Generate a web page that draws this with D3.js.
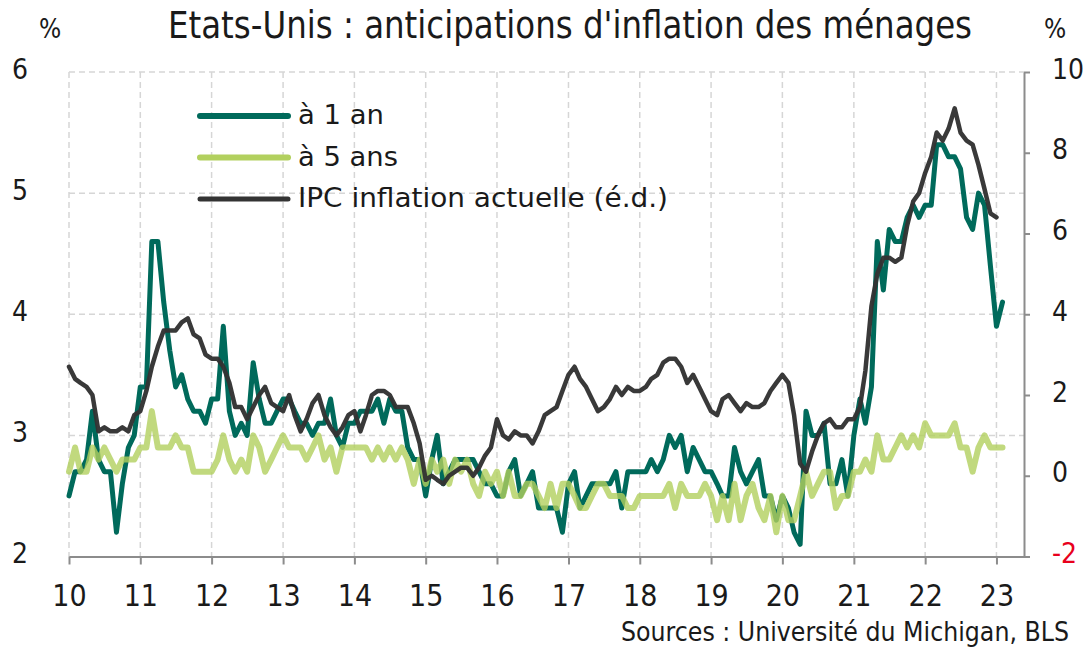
<!DOCTYPE html>
<html lang="fr">
<head>
<meta charset="utf-8">
<title>Etats-Unis : anticipations d'inflation des ménages</title>
<style>
  body { margin: 0; background: #fff; }
  svg text { font-family: "Liberation Sans Narrow", "DejaVu Sans Condensed", Roboto, sans-serif; }
  .grid line { stroke: #d6d6d6; stroke-width: 1.5; stroke-dasharray: 6 4; }
  .serie { fill: none; stroke-linejoin: round; stroke-linecap: round; }
</style>
</head>
<body>
<svg id="chart" width="1089" height="648"></svg>
<script src="https://cdn.jsdelivr.net/npm/d3@7"></script>
<script>
// monthly values, first point = Jan 2010
const startYear = 2010;

// à 1 an (Univ. Michigan, % ; left axis)
const oneYear = [
  2.5, 2.7, 2.7, 2.8, 3.2, 2.8, 2.7, 2.7, 2.2, 2.6, 2.9, 3.0,
  3.4, 3.4, 4.6, 4.6, 4.1, 3.7, 3.4, 3.5, 3.3, 3.2, 3.2, 3.1,
  3.3, 3.3, 3.9, 3.2, 3.0, 3.1, 3.0, 3.6, 3.3, 3.1, 3.1, 3.2,
  3.3, 3.3, 3.2, 3.1, 3.1, 3.0, 3.1, 3.1, 3.3, 3.0, 2.9, 3.1,
  3.1, 3.2, 3.2, 3.2, 3.3, 3.1, 3.3, 3.2, 3.2, 2.9, 2.8, 2.8,
  2.5, 2.8, 3.0, 2.6, 2.7, 2.8, 2.8, 2.8, 2.8, 2.7, 2.6, 2.6,
  2.5, 2.5, 2.7, 2.8, 2.5, 2.6, 2.7, 2.4, 2.4, 2.4, 2.4, 2.2,
  2.6, 2.7, 2.4, 2.5, 2.6, 2.6, 2.6, 2.6, 2.7, 2.4, 2.7, 2.7,
  2.7, 2.7, 2.8, 2.7, 2.8, 3.0, 2.9, 3.0, 2.7, 2.9, 2.8, 2.7,
  2.7, 2.6, 2.5, 2.5, 2.9, 2.7, 2.6, 2.7, 2.8, 2.5, 2.5, 2.3,
  2.5, 2.4, 2.2, 2.1, 3.2, 3.0, 3.0, 3.1, 2.6, 2.6, 2.8, 2.5,
  3.0, 3.3, 3.1, 3.4, 4.6, 4.2, 4.7, 4.6, 4.6, 4.8, 4.9, 4.8,
  4.9, 4.9, 5.4, 5.4, 5.3, 5.3, 5.2, 4.8, 4.7, 5.0, 4.9, 4.4,
  3.9, 4.1
];

// à 5 ans (left axis)
const fiveYear = [
  2.7, 2.9, 2.7, 2.7, 2.9, 2.8, 2.9, 2.8, 2.7, 2.8, 2.8, 2.8,
  2.9, 2.9, 3.2, 2.9, 2.9, 2.9, 3.0, 2.9, 2.9, 2.7, 2.7, 2.7,
  2.7, 2.8, 3.0, 2.8, 2.7, 2.8, 2.7, 3.0, 2.9, 2.7, 2.8, 2.9,
  3.0, 2.9, 2.9, 2.9, 2.8, 2.9, 3.0, 2.8, 2.9, 2.7, 2.9, 2.9,
  2.9, 2.9, 2.9, 2.8, 2.9, 2.8, 2.9, 2.8, 2.9, 2.8, 2.6, 2.8,
  2.6, 2.8, 2.7, 2.8, 2.6, 2.8, 2.7, 2.8, 2.6, 2.5, 2.7, 2.6,
  2.7, 2.5, 2.7, 2.5, 2.5, 2.6, 2.6, 2.5, 2.4, 2.6, 2.4, 2.6,
  2.6, 2.5, 2.4, 2.4, 2.5, 2.6, 2.6, 2.5, 2.5, 2.5, 2.4, 2.4,
  2.5, 2.5, 2.5, 2.5, 2.5, 2.6, 2.4, 2.6, 2.5, 2.5, 2.5, 2.6,
  2.5, 2.3, 2.5, 2.3, 2.6, 2.3, 2.5, 2.6, 2.4, 2.3, 2.5, 2.2,
  2.5, 2.3, 2.3, 2.5, 2.7, 2.5, 2.6, 2.7, 2.7, 2.4, 2.5, 2.5,
  2.7, 2.7, 2.8, 2.7, 3.0, 2.8, 2.8, 2.9, 3.0, 2.9, 3.0, 2.9,
  3.1, 3.0, 3.0, 3.0, 3.0, 3.1, 2.9, 2.9, 2.7, 2.9, 3.0, 2.9,
  2.9, 2.9
];

// IPC inflation actuelle, % a/a (right axis)
const cpi = [
  2.7, 2.4, 2.3, 2.2, 2.0, 1.1, 1.2, 1.1, 1.1, 1.2, 1.1, 1.5,
  1.6, 2.1, 2.7, 3.2, 3.6, 3.6, 3.6, 3.8, 3.9, 3.5, 3.4, 3.0,
  2.9, 2.9, 2.7, 2.3, 1.7, 1.7, 1.4, 1.7, 2.0, 2.2, 1.8, 1.7,
  1.6, 2.0, 1.5, 1.1, 1.4, 1.8, 2.0, 1.5, 1.2, 1.0, 1.2, 1.5,
  1.6, 1.1, 1.5, 2.0, 2.1, 2.1, 2.0, 1.7, 1.7, 1.7, 1.3, 0.8,
  -0.1, 0.0, -0.1, -0.2, 0.0, 0.1, 0.2, 0.2, 0.0, 0.2, 0.5, 0.7,
  1.4, 1.0, 0.9, 1.1, 1.0, 1.0, 0.8, 1.1, 1.5, 1.6, 1.7, 2.1,
  2.5, 2.7, 2.4, 2.2, 1.9, 1.6, 1.7, 1.9, 2.2, 2.0, 2.2, 2.1,
  2.1, 2.2, 2.4, 2.5, 2.8, 2.9, 2.9, 2.7, 2.3, 2.5, 2.2, 1.9,
  1.6, 1.5, 1.9, 2.0, 1.8, 1.6, 1.8, 1.7, 1.7, 1.8, 2.1, 2.3,
  2.5, 2.3, 1.5, 0.3, 0.1, 0.6, 1.0, 1.3, 1.4, 1.2, 1.2, 1.4,
  1.4, 1.7, 2.6, 4.2, 5.0, 5.4, 5.4, 5.3, 5.4, 6.2, 6.8, 7.0,
  7.5, 7.9, 8.5, 8.3, 8.6, 9.1, 8.5, 8.3, 8.2, 7.7, 7.1, 6.5,
  6.4
];

const leftTicks = [2, 3, 4, 5, 6];
const rightTicks = [-2, 0, 2, 4, 6, 8, 10];
const legendLabels = ["à 1 an", "à 5 ans", "IPC inflation actuelle (é.d.)"];
const colors = ["#006a5b", "#b2d05e", "#333333"];
const ink = "#1a1a1a";

const svg = d3.select("#chart");
const plotLeft = 69, plotRight = 1024, plotTop = 72, plotBottom = 556.5;

const month = i => new Date(startYear, i, 1);
const x = d3.scaleTime().domain([new Date(2010, 0, 1), new Date(2023, 4, 22)]).range([plotLeft, plotRight]);
const yL = d3.scaleLinear().domain([2, 6]).range([plotBottom, plotTop]);
const yR = d3.scaleLinear().domain([-2, 10]).range([plotBottom, plotTop]);
const years = d3.timeYear.range(new Date(2010, 0, 1), new Date(2023, 1, 1));

// grid
const grid = svg.append("g").attr("class", "grid");
grid.selectAll(".h").data(leftTicks.slice(1)).enter().append("line")
  .attr("x1", plotLeft).attr("x2", plotRight)
  .attr("y1", d => yL(d)).attr("y2", d => yL(d));
grid.selectAll(".v").data(years).enter().append("line")
  .attr("x1", d => x(d)).attr("x2", d => x(d))
  .attr("y1", plotTop).attr("y2", plotBottom);

// series
const lineL = d3.line().x((d, i) => x(month(i))).y(d => yL(d));
const lineR = d3.line().x((d, i) => x(month(i))).y(d => yR(d));
svg.append("path").attr("class", "serie").attr("d", lineL(oneYear))
  .attr("stroke", colors[0]).attr("stroke-width", 5);
svg.append("path").attr("class", "serie").attr("d", lineL(fiveYear))
  .attr("stroke", colors[1]).attr("stroke-width", 6).attr("stroke-opacity", 0.8);
svg.append("path").attr("class", "serie").attr("d", lineR(cpi))
  .attr("stroke", colors[2]).attr("stroke-width", 4.5).attr("stroke-opacity", 0.97);

// bottom axis
const xAxis = svg.append("g").attr("transform", `translate(0,${plotBottom})`)
  .call(d3.axisBottom(x).tickValues(years).tickFormat(d3.timeFormat("%y"))
    .tickSize(8).tickSizeOuter(0).tickPadding(20));
xAxis.select(".domain").attr("stroke", "#8c8c8c").attr("stroke-width", 2);
xAxis.selectAll(".tick line").attr("stroke", "#8c8c8c").attr("stroke-width", 2);
xAxis.selectAll("text").style("font-size", "30px").style("fill", ink);

// left axis (labels only)
const yAxisL = svg.append("g").attr("transform", `translate(${plotLeft},0)`)
  .call(d3.axisLeft(yL).tickValues(leftTicks).tickFormat(d => String(d)).tickSize(0).tickPadding(41));
yAxisL.select(".domain").remove();
yAxisL.selectAll("text").style("font-size", "28px").style("fill", ink).attr("dy", "0.22em");

// right axis
const yAxisR = svg.append("g").attr("transform", `translate(${plotRight},0)`)
  .call(d3.axisRight(yR).tickValues(rightTicks).tickFormat(d => String(d)).tickSize(6).tickSizeOuter(0).tickPadding(22));
yAxisR.select(".domain").attr("stroke", "#8c8c8c").attr("stroke-width", 2);
yAxisR.selectAll(".tick line").attr("stroke", "#8c8c8c").attr("stroke-width", 2);
yAxisR.selectAll("text").style("font-size", "28px").attr("dy", "0.22em")
  .style("fill", d => d < 0 ? "#e8001c" : ink);

// units
svg.append("text").attr("x", 50).attr("y", 38).attr("text-anchor", "middle").style("font-size", "26px").style("fill", ink).text("%");
svg.append("text").attr("x", 1055).attr("y", 38).attr("text-anchor", "middle").style("font-size", "26px").style("fill", ink).text("%");

// title
svg.append("text").attr("x", 168).attr("y", 38).style("font-size", "37px").style("fill", ink)
  .attr("textLength", 804).attr("lengthAdjust", "spacingAndGlyphs")
  .text("Etats-Unis : anticipations d'inflation des ménages");

// legend
const legendY = [116, 157.5, 199];
const legendW = [86, 100, 370];
const lg = svg.append("g");
legendLabels.forEach((lab, i) => {
  lg.append("line").attr("x1", 200).attr("x2", 288).attr("y1", legendY[i]).attr("y2", legendY[i])
    .attr("stroke", colors[i]).attr("stroke-width", i === 2 ? 5 : 6).attr("stroke-linecap", "round");
  lg.append("text").attr("x", 298).attr("y", legendY[i] + 8).style("font-size", "26px").style("fill", ink)
    .attr("textLength", legendW[i]).attr("lengthAdjust", "spacingAndGlyphs").text(lab);
});

// source
svg.append("text").attr("x", 1069).attr("y", 641).attr("text-anchor", "end").style("font-size", "26px").style("fill", ink)
  .attr("textLength", 448).attr("lengthAdjust", "spacingAndGlyphs")
  .text("Sources : Université du Michigan, BLS");
</script>
</body>
</html>
